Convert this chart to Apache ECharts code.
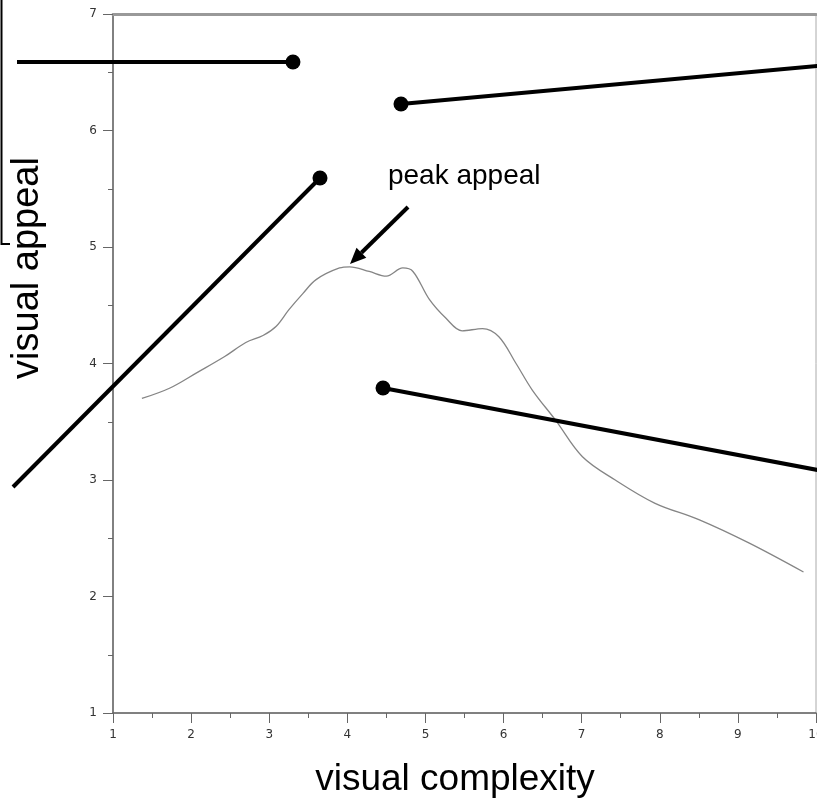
<!DOCTYPE html>
<html><head><meta charset="utf-8">
<script src="https://cdn.jsdelivr.net/npm/echarts@6/dist/echarts.min.js"></script>
<style>html,body{margin:0;padding:0;background:#fff}#c{width:817px;height:800px}</style>
</head><body><div id="c"></div>
<script>
// curve: visual complexity (x) vs visual appeal (y)
var complexity = [1.37,1.73,2.07,2.43,2.70,2.92,3.09,3.25,3.43,3.60,3.90,4.03,4.28,4.50,4.71,4.84,5.05,5.26,5.47,5.73,5.94,6.16,6.37,6.67,7.01,7.43,7.94,8.50,9.14,9.84];
var appeal     = [3.70,3.79,3.92,4.06,4.18,4.24,4.32,4.46,4.60,4.72,4.82,4.83,4.79,4.75,4.82,4.79,4.55,4.39,4.28,4.30,4.23,4.00,3.77,3.51,3.20,3.00,2.80,2.66,2.46,2.21];
var xTicks = [1,2,3,4,5,6,7,8,9,10];
var yTicks = [1,2,3,4,5,6,7];
// annotation pointer lines in data coords: [dotX, dotY, endX, endY]
var pointerDots = [[3.304,6.588,-0.229,6.588],[4.687,6.227,10.02,6.554],[3.650,5.592,-0.28,2.94],[4.457,3.790,10.02,3.086]];
var arrowFrom = [4.777,5.343], arrowTo = [4.034,4.854];
var peakLabel = 'peak appeal', peakPos = [4.52,5.485];
var xTitle = 'visual complexity', yTitle = 'visual appeal';

var chart = echarts.init(document.getElementById('c'));
var pts = complexity.map(function(x,i){return [x, appeal[i]];});
var font = '"Liberation Sans", Arial, sans-serif';
chart.setOption({
  animation:false,
  grid:{left:113,right:1,top:14,bottom:87,show:true,borderColor:'#aaa',borderWidth:1,outerBoundsMode:'none',containLabel:false},
  xAxis:[{type:'value',min:1,max:10,interval:1,
    axisLine:{lineStyle:{color:'#666',width:1.5}},
    axisTick:{show:true,length:10,lineStyle:{color:'#666'}},
    minorTick:{show:true,splitNumber:2,length:5,lineStyle:{color:'#666'}},
    splitLine:{show:false},
    axisLabel:{margin:16,fontSize:12,color:'#333',fontFamily:'"DejaVu Sans", sans-serif',showMaxLabel:true,hideOverlap:false,
      formatter:function(v){return xTicks.indexOf(v)>=0?String(v):'';}}},
    {type:'value',position:'top',min:1,max:10,interval:1,
    axisLine:{show:true,lineStyle:{color:'#999',width:3}},axisTick:{show:false},axisLabel:{show:false},splitLine:{show:false}}],
  yAxis:{type:'value',min:1,max:7,interval:1,
    axisLine:{show:true,lineStyle:{color:'#666',width:1.5}},
    axisTick:{show:true,length:10,lineStyle:{color:'#666'}},
    minorTick:{show:true,splitNumber:2,length:5,lineStyle:{color:'#666'}},
    splitLine:{show:false},
    axisLabel:{margin:16,fontSize:12,color:'#333',fontFamily:'"DejaVu Sans", sans-serif',
      formatter:function(v){return yTicks.indexOf(v)>=0?String(v):'';}}},
  series:[{type:'line',data:pts,smooth:0.35,showSymbol:false,
    lineStyle:{color:'#858585',width:1.3}}]
});

function px(p){return chart.convertToPixel({gridIndex:0},p);}
var g = [];
// frame corner at top left
g.push({type:'polyline',shape:{points:[[1.5,0],[1.5,244],[10,244]]},style:{stroke:'#000',lineWidth:2,fill:null},z:100});
pointerDots.forEach(function(d){
  var a = px([d[0],d[1]]), b = px([d[2],d[3]]);
  g.push({type:'line',shape:{x1:a[0],y1:a[1],x2:b[0],y2:b[1]},style:{stroke:'#000',lineWidth:4},z:100});
  g.push({type:'circle',shape:{cx:a[0],cy:a[1],r:7.5},style:{fill:'#000'},z:101});
});
var af = px(arrowFrom), at = px(arrowTo);
var ang = Math.atan2(at[1]-af[1], at[0]-af[0]);
var hl = 16, hw = 7;
var bx = at[0]-hl*Math.cos(ang), by = at[1]-hl*Math.sin(ang);
g.push({type:'line',shape:{x1:af[0],y1:af[1],x2:bx,y2:by},style:{stroke:'#000',lineWidth:4},z:100});
g.push({type:'polygon',shape:{points:[[at[0],at[1]],[bx+hw*Math.sin(ang),by-hw*Math.cos(ang)],[bx-hw*Math.sin(ang),by+hw*Math.cos(ang)]]},style:{fill:'#000'},z:100});
var pp = px(peakPos);
g.push({type:'text',x:pp[0],y:pp[1],style:{text:peakLabel,font:'28px '+font,fill:'#000',textAlign:'left',textVerticalAlign:'bottom'},z:100});
g.push({type:'text',x:455,y:780,style:{text:xTitle,font:'37px '+font,fill:'#000',textAlign:'center',textVerticalAlign:'middle'},z:100});
g.push({type:'text',x:28,y:268,rotation:Math.PI/2,style:{text:yTitle,font:'38px '+font,fill:'#000',textAlign:'center',textVerticalAlign:'middle'},z:100});
chart.setOption({graphic:g});
</script></body></html>
